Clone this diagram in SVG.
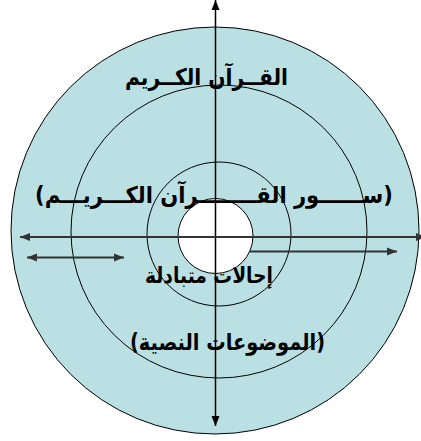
<svg xmlns="http://www.w3.org/2000/svg" width="421" height="441" viewBox="0 0 421 441">
<style>
.ring{fill:#BBE0E3;stroke:#000;stroke-width:1}
.lbl{font-family:"DejaVu Sans",sans-serif;font-weight:bold;fill:#000;text-anchor:middle;direction:rtl}
.ax{stroke:#000;stroke-width:1.5;fill:none}
.hx{stroke:#333;stroke-width:2;fill:none}
</style>
<defs>
<marker id="ah" markerUnits="userSpaceOnUse" markerWidth="10" markerHeight="10" viewBox="0 0 10 10" refX="10" refY="5" orient="auto-start-reverse">
<path d="M0,1 L10,5 L0,9 Z" fill="#000"/>
</marker>
<marker id="ahg" markerUnits="userSpaceOnUse" markerWidth="10" markerHeight="10" viewBox="0 0 10 10" refX="10" refY="5" orient="auto-start-reverse">
<path d="M0,1 L10,5 L0,9 Z" fill="#333"/>
</marker>
</defs>
<g id="ring-outer"><ellipse class="ring" cx="215" cy="230.5" rx="204" ry="203.5"/></g>
<g id="ring-middle"><ellipse class="ring" cx="219" cy="231.5" rx="148" ry="146.5"/></g>
<g id="ring-inner"><ellipse class="ring" cx="219" cy="234" rx="72" ry="72"/></g>
<g id="core"><circle cx="215.5" cy="236" r="37.5" fill="#fff" stroke="#000" stroke-width="1"/></g>
<g id="label-quran"><text class="lbl" direction="rtl" x="206.5" y="85" font-size="23" textLength="163" lengthAdjust="spacingAndGlyphs">القــرآن الكــريم</text></g>
<g id="label-suwar"><text class="lbl" direction="rtl" x="214" y="203" font-size="23" textLength="358" lengthAdjust="spacingAndGlyphs">(ســــــور القــــــــرآن الكـــريـــم)</text></g>
<g id="label-ihalat"><text class="lbl" direction="rtl" x="209" y="283" font-size="22" textLength="128" lengthAdjust="spacingAndGlyphs">إحالات  متبادلة</text></g>
<g id="label-mawdooat"><text class="lbl" direction="rtl" x="227.5" y="350" font-size="23" textLength="195" lengthAdjust="spacingAndGlyphs">(الموضوعات النصية)</text></g>
<g id="connectors">
<line class="ax" x1="215.5" y1="426" x2="215.5" y2="0" marker-end="url(#ah)" marker-start="url(#ah)"/>
<line class="hx" x1="20" y1="237" x2="426" y2="237" marker-end="url(#ahg)" marker-start="url(#ahg)"/>
<line class="hx" x1="27" y1="257.5" x2="124" y2="257.5" marker-end="url(#ahg)" marker-start="url(#ahg)"/>
<line class="hx" x1="250" y1="251.5" x2="397" y2="251.5" marker-end="url(#ahg)"/>
</g>
</svg>
